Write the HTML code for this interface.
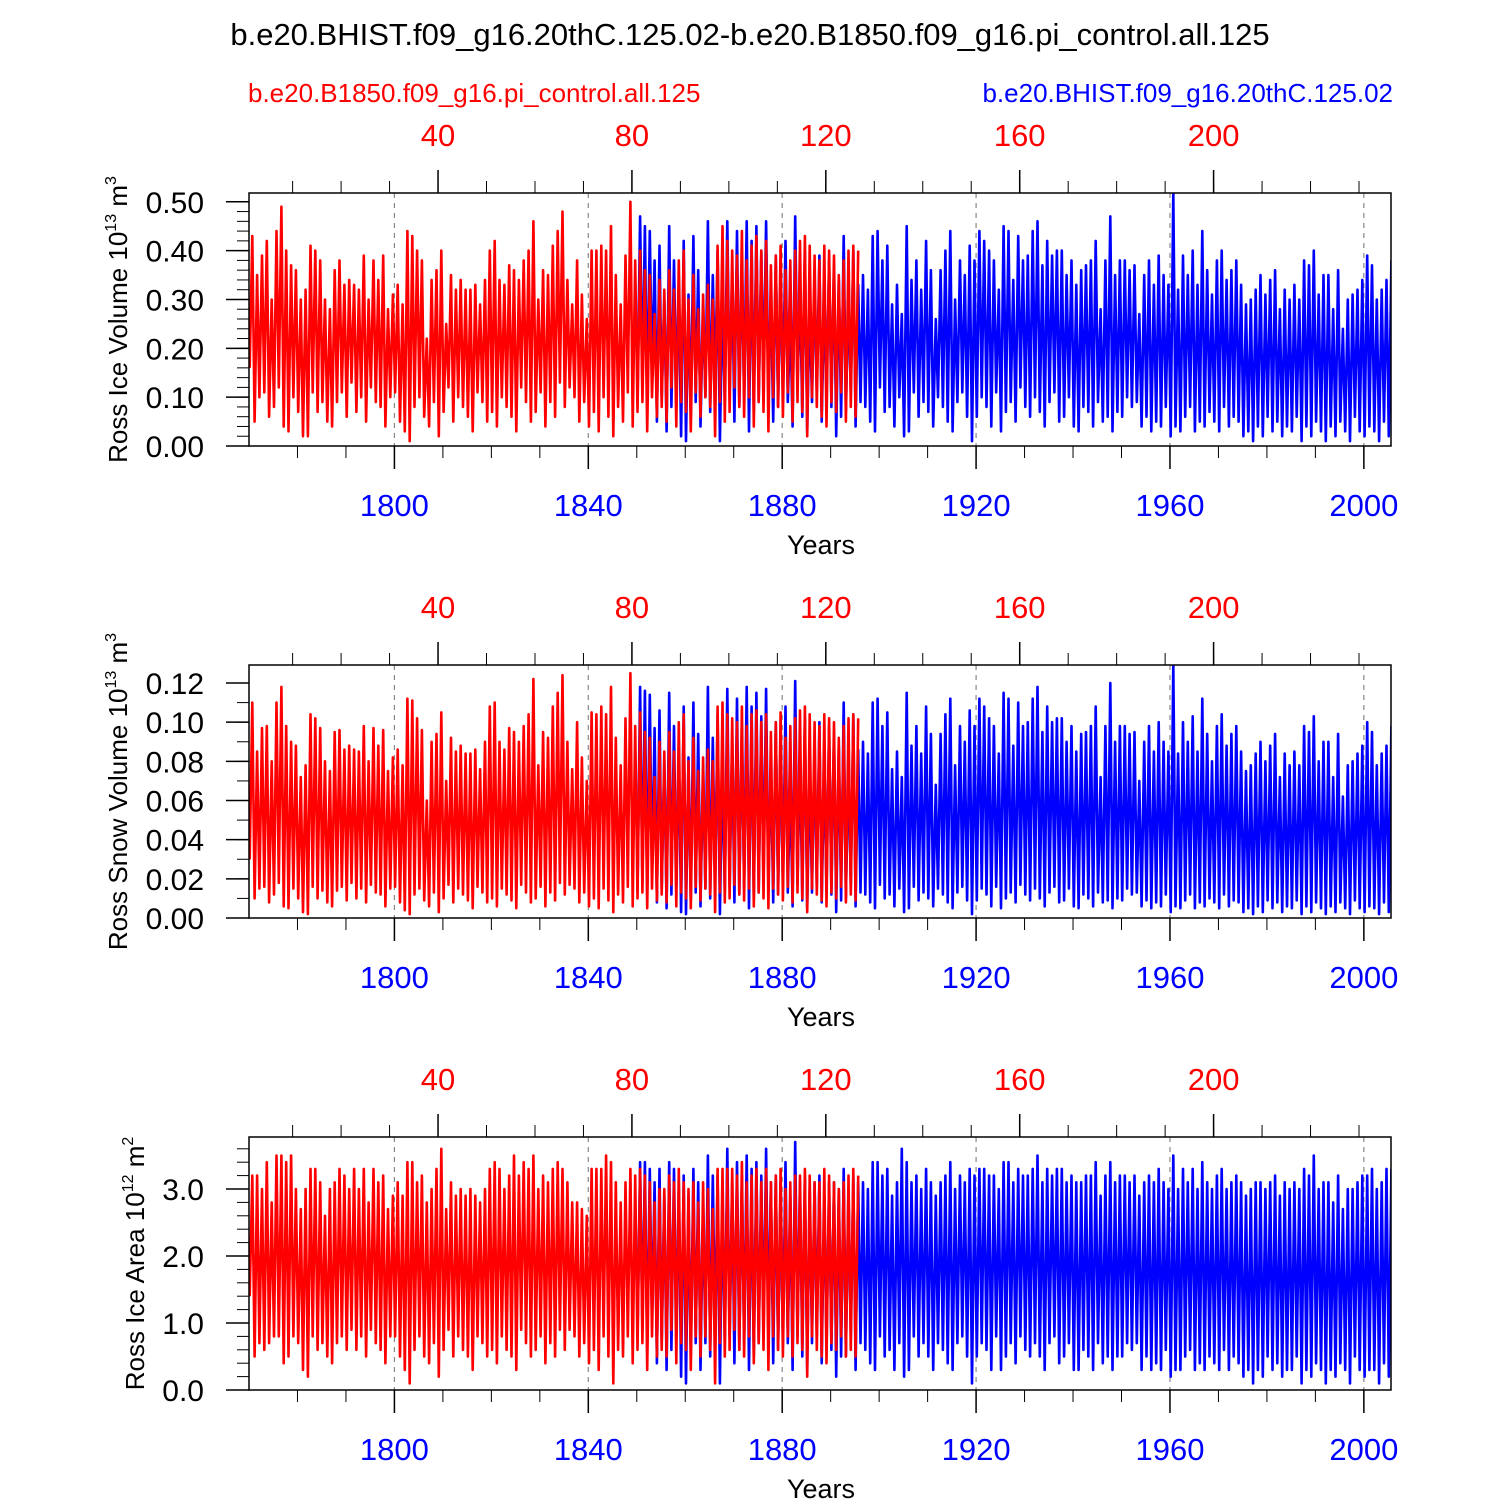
<!DOCTYPE html>
<html><head><meta charset="utf-8"><style>
html,body{margin:0;padding:0;background:#fff}
svg{display:block;font-family:"Liberation Sans",sans-serif}
</style></head><body>
<svg id="chart" width="1500" height="1500" viewBox="0 0 1500 1500" xmlns="http://www.w3.org/2000/svg">
<rect width="1500" height="1500" fill="#fff"/>
<text x="750" y="45" font-size="31" text-anchor="middle">b.e20.BHIST.f09_g16.20thC.125.02-b.e20.B1850.f09_g16.pi_control.all.125</text>
<text x="248" y="102" font-size="26" fill="#ff0000">b.e20.B1850.f09_g16.pi_control.all.125</text>
<text x="1393" y="102" font-size="26" fill="#0000ff" text-anchor="end">b.e20.BHIST.f09_g16.20thC.125.02</text>
<g id="panels"></g>
</svg>
<script>
// Panel 1: Ross Ice Volume (units of 0.01 x 10^13 m^3)
const redPeak1=[43,35,39,42,30,44,49,40,37,36,30,32,41,40,38,30,28,36,38,33,34,33,32,39,30,38,34,39,28,31,33,29,44,43,40,38,22,34,36,40,25,35,32,34,32,32,33,29,34,40,42,34,33,37,36,34,38,40,46,30,36,35,41,44,48,34,29,38,31,26,40,40,41,40,45,35,29,39,50,38,40,36,35,27,34,32,36,32,38,40,30,35,28,31,33,30,41,45,42,40,39,44,38,41,43,40,42,37,39,41,36,38,40,42,43,41,39,38,41,40,39,35,38,40,41,40];
const redTrough1=[16,5,10,11,6,8,12,4,3,10,7,2,2,11,7,9,5,4,9,11,6,13,7,10,5,12,9,8,4,10,11,5,3,1,8,10,6,4,9,2,7,12,5,10,8,6,3,11,9,5,7,4,10,8,6,3,12,9,5,7,11,4,9,6,13,8,12,10,5,9,4,7,3,10,6,2,8,5,11,4,7,9,3,10,6,8,5,12,4,9,7,3,11,6,10,8,2,9,5,7,12,8,6,10,4,9,7,3,10,8,6,11,5,9,7,2,10,8,6,4,9,7,11,5,8,6];
const bluePeak1=[47,45,44,38,41,30,45,38,32,42,31,43,36,29,46,35,40,30,46,35,44,38,46,42,45,40,46,31,39,36,42,26,47,32,40,29,35,39,30,38,37,34,43,31,40,33,35,32,43,44,38,41,29,33,27,45,34,38,32,42,36,26,36,40,44,30,38,35,41,38,44,42,40,38,32,45,44,34,43,38,39,44,46,37,42,39,40,40,35,38,33,36,37,38,42,28,38,47,35,38,38,36,37,27,35,38,33,39,35,33,52,32,39,35,40,33,44,36,31,38,40,34,36,38,33,29,30,32,35,31,34,36,28,32,30,33,30,38,37,40,31,35,35,28,36,24,30,31,32,34,39,37,30,32,34,38];
const blueTrough1=[9,12,8,14,5,10,3,8,11,2,1,6,9,4,10,7,12,1,9,11,5,8,10,3,7,9,12,11,5,8,10,9,4,12,6,3,9,11,5,10,8,2,6,7,11,4,9,8,5,3,12,7,8,4,10,2,3,11,6,9,7,4,10,8,5,3,9,11,6,1,6,10,8,4,11,3,7,9,5,12,8,6,10,7,4,9,11,5,6,10,4,3,8,7,4,9,5,6,3,7,6,10,8,9,4,6,3,5,4,8,2,4,3,6,8,3,5,4,7,5,3,8,4,6,5,2,3,1,4,2,6,3,5,2,4,3,6,1,4,2,5,3,1,4,2,5,3,1,6,3,2,4,3,1,5,2];
// Panel 2: Ross Snow Volume (units of 0.001 x 10^13 m^3)
const redPeak2=[110,85,97,98,80,110,118,98,90,88,72,78,104,102,97,80,75,95,96,86,88,86,85,98,80,97,88,96,75,82,86,78,112,111,102,96,60,90,94,105,70,92,85,88,84,84,86,76,90,108,110,90,86,97,95,90,98,104,122,78,95,92,108,115,124,90,76,100,82,70,105,104,108,104,118,92,78,102,125,98,105,95,92,72,90,85,95,85,100,104,80,92,75,82,86,80,108,110,104,102,100,108,98,104,106,100,104,95,100,105,92,98,102,106,108,104,100,98,104,102,100,92,98,102,104,102];
const redTrough2=[30,10,15,16,8,12,18,6,5,15,10,3,2,16,10,14,8,6,14,16,9,18,10,15,8,17,13,12,6,15,16,8,4,2,12,15,9,6,13,3,10,17,8,15,12,9,5,16,13,8,10,6,15,12,9,5,17,13,8,10,16,6,13,9,18,12,17,15,8,13,6,10,5,15,9,3,12,8,16,6,10,13,5,15,9,12,8,17,6,13,10,5,16,9,15,12,3,13,8,10,17,12,9,15,6,13,10,5,15,12,9,16,8,13,10,3,15,12,9,6,13,10,16,8,12,9];
const bluePeak2=[118,116,114,97,106,80,115,98,84,108,82,110,94,76,118,92,104,78,117,90,112,97,118,108,115,103,117,80,100,94,108,68,121,84,102,76,90,100,78,98,95,88,110,80,104,86,90,84,110,112,98,105,76,85,72,115,88,98,84,108,94,68,94,104,112,78,98,90,106,98,112,108,102,98,84,115,112,88,110,98,100,112,118,95,108,100,102,102,90,98,85,94,95,98,108,72,98,120,90,98,98,94,95,70,90,98,85,100,90,85,130,84,100,90,103,85,112,94,80,98,104,88,94,98,85,75,78,84,90,80,88,94,72,84,78,85,78,98,95,103,80,90,90,72,94,62,78,80,84,88,100,95,78,84,88,98];
const blueTrough2=[14,18,12,20,8,15,5,12,16,3,2,9,13,6,15,10,17,2,13,16,8,12,15,5,10,13,18,16,8,12,15,13,6,17,9,5,13,16,8,15,12,3,9,10,16,6,13,12,8,5,17,10,12,6,15,3,5,16,9,13,10,6,15,12,8,5,13,16,9,2,9,15,12,6,16,5,10,13,8,17,12,9,15,10,6,13,16,8,9,15,6,5,12,10,6,13,8,9,5,10,9,15,12,13,6,9,5,8,6,12,3,6,5,9,12,5,8,6,10,8,5,12,6,9,8,3,5,2,6,3,9,5,8,3,6,5,9,2,6,3,8,5,2,6,3,8,5,2,9,5,3,6,5,2,8,3];
// Panel 3: Ross Ice Area (units of 0.1 x 10^12 m^2)
const redPeak3=[32,32,30,34,28,35,35,34,35,30,27,30,33,33,31,26,30,31,33,32,30,33,30,33,28,33,31,32,27,29,31,29,34,34,31,32,28,30,33,36,27,31,29,30,29,30,29,28,30,33,34,33,30,32,35,32,34,33,35,30,32,31,33,34,33,31,28,28,27,26,33,33,33,35,34,31,28,31,33,32,33,32,31,28,30,30,32,31,33,31,30,31,28,31,30,27,33,33,33,33,32,34,31,32,33,31,33,31,32,33,30,31,32,32,33,32,31,31,33,32,31,30,31,32,33,32];
const redTrough3=[14,5,7,6,7,8,8,4,5,8,7,3,2,8,6,7,5,4,7,8,6,9,6,8,5,9,7,6,4,8,8,5,3,1,6,8,5,4,7,2,6,9,5,8,6,5,3,8,7,5,6,4,8,6,5,3,9,7,5,6,8,4,7,5,9,6,9,8,5,7,4,6,3,8,5,1,6,5,8,4,6,7,3,8,5,6,5,9,4,7,6,3,8,5,8,6,1,7,5,6,9,6,5,8,4,7,6,3,8,6,5,8,5,7,6,2,8,6,5,4,7,6,8,5,6,5];
const bluePeak3=[34,34,33,31,33,29,34,33,30,32,29,33,31,28,35,32,32,30,36,31,34,32,35,33,34,32,36,31,32,31,34,29,37,31,32,30,31,32,29,31,31,30,33,30,32,31,31,30,34,34,32,33,29,31,36,34,31,32,30,33,31,29,31,32,34,30,32,31,33,32,33,33,32,32,30,34,34,31,33,32,32,33,35,31,33,32,33,33,31,32,31,31,32,32,34,29,32,34,31,32,32,31,32,29,31,32,31,33,31,30,35,30,33,31,33,30,34,31,30,32,33,30,31,32,31,29,30,31,31,30,31,32,29,31,30,31,30,33,32,35,30,31,31,28,32,27,30,30,31,32,32,33,30,31,33,33];
const blueTrough3=[8,9,6,10,4,7,3,6,8,2,1,5,7,3,7,5,8,1,7,8,4,6,7,3,5,7,8,8,4,6,7,7,3,8,5,3,7,8,4,7,6,2,5,5,8,3,7,6,4,3,8,5,6,3,7,2,3,8,5,7,5,3,7,6,4,3,7,8,5,1,5,7,6,3,8,3,5,7,4,8,6,5,7,5,3,7,8,4,5,7,3,3,6,5,3,7,4,5,3,5,5,7,6,7,3,5,3,4,3,6,2,3,3,5,6,3,4,3,5,4,3,6,3,5,4,2,3,1,3,2,5,3,4,2,3,3,5,1,3,2,4,3,1,3,2,4,3,1,5,3,2,3,3,1,4,2];
const topTicks=[40,80,120,160,200];
const bottomTicks=[1800,1840,1880,1920,1960,2000];
const redStart=1770, blueStart=1850, topOffset=1769;

const NS='http://www.w3.org/2000/svg';
const X0=249,X1=1391,YR0=1770,YR1=2005.6;
function xs(yr){return X0+(yr-YR0)*(X1-X0)/(YR1-YR0);}
function mk(tag,attrs,parent){const e=document.createElementNS(NS,tag);for(const k in attrs)e.setAttribute(k,attrs[k]);parent.appendChild(e);return e;}
const root=document.getElementById('panels');
const panels=[
 {top:193,bot:446,ymax:0.518,scale:0.01,major:[0,0.1,0.2,0.3,0.4,0.5],minor:0.02,dec:2,rp:redPeak1,rt:redTrough1,bp:bluePeak1,bt:blueTrough1,label:['Ross Ice Volume 10','13',' m','3'],lx:127},
 {top:665,bot:918,ymax:0.1292,scale:0.001,major:[0,0.02,0.04,0.06,0.08,0.1,0.12],minor:0.01,dec:2,rp:redPeak2,rt:redTrough2,bp:bluePeak2,bt:blueTrough2,label:['Ross Snow Volume 10','13',' m','3'],lx:127},
 {top:1137,bot:1390,ymax:3.776,scale:0.1,major:[0,1,2,3],minor:0.2,dec:1,rp:redPeak3,rt:redTrough3,bp:bluePeak3,bt:blueTrough3,label:['Ross Ice Area 10','12',' m','2'],lx:144}
];
panels.forEach((p,pi)=>{
 const g=mk('g',{},root);
 
 
 const ys=v=>p.bot-v/p.ymax*(p.bot-p.top);
 const cid='clip'+pi;
 const cp=mk('clipPath',{id:cid},g);mk('rect',{x:X0,y:p.top,width:X1-X0,height:p.bot-p.top},cp);
 bottomTicks.forEach(t=>{const l=mk('line',{x1:xs(t),x2:xs(t),y1:p.top,y2:p.bot,stroke:'#888','stroke-width':1.2,'stroke-dasharray':'5,5'},g);
  });
 function series(pk,tr,start,color,name){
  let pts=[];
  for(let i=0;i<pk.length;i++){
   pts.push(xs(start+i+0.15).toFixed(1)+','+ys(tr[i]*p.scale).toFixed(1));
   pts.push(xs(start+i+0.68).toFixed(1)+','+ys(pk[i]*p.scale).toFixed(1));
  }
  const pl=mk('polyline',{points:pts.join(' '),fill:'none',stroke:color,'stroke-width':2.6,'stroke-linejoin':'round','clip-path':'url(#'+cid+')'},g);
  
 }
 series(p.bp,p.bt,blueStart,'#0000ff','hist-series');
 series(p.rp,p.rt,redStart,'#ff0000','control-series');
 const fr=mk('rect',{x:X0,y:p.top,width:X1-X0,height:p.bot-p.top,fill:'none',stroke:'#000','stroke-width':1.5},g);
 
 for(let v=0;v<=p.ymax+1e-9;v+=p.minor){mk('line',{x1:X0-12,x2:X0,y1:ys(v),y2:ys(v),stroke:'#000','stroke-width':1},g);}
 p.major.forEach(v=>{mk('line',{x1:X0-23,x2:X0,y1:ys(v),y2:ys(v),stroke:'#000','stroke-width':1.5},g);
  const t=mk('text',{x:204,y:ys(v)+11,'font-size':30,'text-anchor':'end'},g);t.textContent=v.toFixed(p.dec);
  });
 for(let yr=1780;yr<=2005;yr+=10){mk('line',{x1:xs(yr),x2:xs(yr),y1:p.bot,y2:p.bot+12,stroke:'#000','stroke-width':1},g);}
 bottomTicks.forEach(t=>{mk('line',{x1:xs(t),x2:xs(t),y1:p.bot,y2:p.bot+23,stroke:'#000','stroke-width':1.5},g);
  const tx=mk('text',{x:xs(t),y:p.bot+70,'font-size':31,'text-anchor':'middle',fill:'#0000ff'},g);tx.textContent=t;
  });
 for(let u=10;u+topOffset<=2005;u+=10){mk('line',{x1:xs(u+topOffset),x2:xs(u+topOffset),y1:p.top-12,y2:p.top,stroke:'#000','stroke-width':1},g);}
 topTicks.forEach(u=>{const x=xs(u+topOffset);mk('line',{x1:x,x2:x,y1:p.top-23,y2:p.top,stroke:'#000','stroke-width':1.5},g);
  const tx=mk('text',{x:x,y:p.top-47,'font-size':31,'text-anchor':'middle',fill:'#ff0000'},g);tx.textContent=u;
  });
 const xt=mk('text',{x:821,y:p.bot+108,'font-size':27,'text-anchor':'middle'},g);xt.textContent='Years';
 
 const cy=(p.top+p.bot)/2;
 const yt=mk('text',{x:0,y:0,'font-size':26,'text-anchor':'middle',transform:'translate('+p.lx+','+cy+') rotate(-90)'},g);
 
 const parts=[[p.label[0],0,26],[p.label[1],-11,16],[p.label[2],11,26],[p.label[3],-11,16]];
 parts.forEach(([s,dy,fs])=>{const ts=mk('tspan',{dy:dy,'font-size':fs},yt);ts.textContent=s;});
});
</script>
</body></html>
